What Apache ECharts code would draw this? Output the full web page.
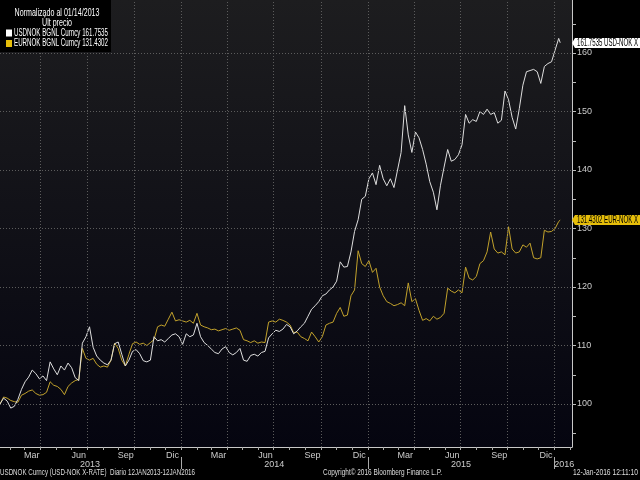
<!DOCTYPE html>
<html>
<head>
<meta charset="utf-8">
<script src="https://cdn.jsdelivr.net/npm/echarts@6/dist/echarts.min.js"></script>
<style>
  html, body { margin: 0; padding: 0; background: #000; }
  #chart { width: 640px; height: 480px; }
</style>
</head>
<body>
<div id="chart"></div>
<script>
  // weekly readings from 12 Jan 2013, last point is 12 Jan 2016
  var usdNok = [
    100, 101, 100.5, 99.3, 99.6, 100.8, 102.5, 103.8, 104.6, 105.8,
    105.2, 104.3, 104.8, 104, 107.2, 106, 105, 106.5, 105.8, 107,
    106.2, 104.5, 104, 110.4, 111.5, 113.2, 109.7, 108.2, 107.5, 107,
    106.7, 107.5, 110.3, 110.6, 108.5, 106.5, 107.5, 109, 109.3, 108.6,
    107.4, 107.2, 107.5, 111.5, 110.8, 111, 110.6, 111.2, 111.8, 112,
    111.5, 110.2, 112, 111.5, 111.8, 113.8, 111.5, 110.5, 110, 109.4,
    108.8, 108.6, 109.4, 109.8, 108.8, 108.4, 108.8, 109.5, 107.5, 107.3,
    108.3, 108.5, 108.2, 108.8, 109, 111.3, 112, 112.6, 112.4, 112.8,
    113.6, 113.2, 112, 112.5, 113.2, 113.8, 115, 116.2, 116.8, 117.5,
    118.5, 118.8, 119.5, 120, 121, 124.3, 123.4, 123.5, 126, 129.5,
    131.5, 135, 135.5, 138.5, 139.5, 137.5, 140.8, 138.5, 137.3, 138.5,
    137, 140, 143, 151, 146, 143, 146.5, 145.5, 143.5, 141,
    138, 136.2, 133.2, 137.4, 140.5, 143.5, 141.5, 141.8, 142.6, 144.3,
    149.5, 148, 148.6, 148.3, 150, 149.5, 150.4, 149.5, 149.8, 148,
    148.5, 153.5, 152, 149, 147, 150.5, 154.5, 156.8, 157, 157.2,
    156.8, 154.8, 157.7, 158.2, 158.5, 160.5, 162.5,
    161.7535
  ];
  var eurNok = [
    100, 101.2, 101, 100.6, 100.4, 100.3, 101.5, 101.8, 102.2, 102.4,
    101.8, 101.5, 101.6, 102, 103.8, 103.2, 103, 102.5, 101.6, 103,
    103.6, 104, 104.2, 109.5, 107.8, 107.5, 107.8, 106.8, 106.3, 106.5,
    106.3, 107.5, 110.4, 109.5, 107.5, 106.5, 108.5, 110.3, 110.6, 110.2,
    110.4, 110, 110.5, 111, 113.2, 113.5, 113.3, 114.5, 115.7, 114.2,
    114.4, 114.2, 114, 114.3, 113.8, 115.5, 113.5, 113.2, 113, 112.7,
    112.8, 112.5, 112.7, 112.9, 112.6, 112.8, 113, 112.6, 111, 110.8,
    110.5, 110.8, 110.4, 110.6, 110.5, 114, 114.2, 114, 114.5, 114.3,
    114, 113.5, 112.2, 112.3, 111.5, 111.2, 110.8, 112.3, 111.5, 110.6,
    111.5, 113.5, 113.8, 114, 115.5, 116.5, 115, 115.2, 118.5, 119.5,
    126.2, 124, 123.5, 124.5, 122.5, 123.2, 120, 118.5, 117.5, 117.2,
    116.8, 117, 117.3, 116.8, 120.7, 117.5, 118, 116, 114.3, 114.6,
    114.2, 115, 114.5, 114.8, 115.5, 119.8, 119.3, 119, 119.5, 119,
    123.4, 121.5, 121.2, 121.8, 124, 124.5, 126, 129.4, 126.5, 125.8,
    126, 125.5, 130.3, 126.5, 125.8, 126, 127.2, 126.8, 127.5, 125,
    124.8, 125, 129.7, 129.4, 129.5, 130, 131.2,
    131.4302
  ];
  var seriesNames = ['USDNOK BGNL Curncy', 'EURNOK BGNL Curncy'];
  var lastPrices = ['161.7535', '131.4302'];
  var axisTags = ['USD-NOK X', 'EUR-NOK X'];
  var yLabelValues = [100, 110, 120, 130, 140, 150, 160];
  var yTickValues = [95, 100, 105, 110, 115, 120, 125, 130, 135, 140, 145, 150, 155, 160, 165];
  var monthNames = ['Ene', 'Feb', 'Mar', 'Abr', 'May', 'Jun', 'Jul', 'Ago', 'Sep', 'Oct', 'Nov', 'Dic'];

  var dates = [];
  for (var k = 0; k < usdNok.length - 1; k++) {
    dates.push(+new Date(2013, 0, 12 + 7 * k));
  }
  dates.push(+new Date(2016, 0, 12));

  var xMin = +new Date(2013, 0, 12);
  var xMax = +new Date(2016, 1, 4);

  var monthTicks = [], monthLabels = [], quarterLines = [];
  for (var y = 2013; y <= 2016; y++) {
    for (var m = 0; m < 12; m++) {
      var t = +new Date(y, m, 1);
      if (t <= xMin || t >= xMax) continue;
      monthTicks.push(t);
      if (m % 3 === 0) quarterLines.push(t);
      if (m % 3 === 2) monthLabels.push(+new Date(y, m, 15));
    }
  }
  var yearTicks = [+new Date(2014, 0, 1), +new Date(2015, 0, 1), +new Date(2016, 0, 1)];
  var yearLabels = [+new Date(2013, 6, 7), +new Date(2014, 6, 2), +new Date(2015, 6, 2), +new Date(2016, 0, 20)];

  var colors = ['#ffffff', '#e6be0a'];
  var lineColors = ['#dedede', '#c2a22c'];
  var font = '"Liberation Sans", "DejaVu Sans", sans-serif';

  // squeeze text horizontally to the narrow Bloomberg look
  var measureCtx = document.createElement('canvas').getContext('2d');
  function narrowText(str, x, y, width, size, align, fill, z) {
    measureCtx.font = size + 'px ' + font;
    var w = measureCtx.measureText(str).width;
    return {
      type: 'text', x: x, y: y, scaleX: width / w, z: z || 12,
      style: { text: str, font: size + 'px ' + font, fill: fill, align: align, verticalAlign: 'middle' }
    };
  }

  var gridMarks = yLabelValues.map(function (v) { return { yAxis: v }; })
    .concat(quarterLines.map(function (t) { return { xAxis: t }; }));

  function pairs(vals) {
    return vals.map(function (v, i) { return [dates[i], v]; });
  }

  var chart = echarts.init(document.getElementById('chart'));
  chart.setOption({
    backgroundColor: '#000',
    animation: false,
    grid: {
      left: 0, right: 68, top: 0, bottom: 33,
      show: true, borderWidth: 0,
      backgroundColor: new echarts.graphic.LinearGradient(0, 0, 0, 1, [
        { offset: 0, color: '#1d1d1f' },
        { offset: 1, color: '#050510' }
      ])
    },
    xAxis: [
      {
        type: 'value', min: xMin, max: xMax,
        axisLine: { show: true, lineStyle: { color: '#c8c8c8', width: 1 } },
        axisTick: { show: true, customValues: monthTicks, length: 3, lineStyle: { color: '#aaa' } },
        axisLabel: {
          customValues: monthLabels, color: '#ccc', fontSize: 9, fontFamily: font, margin: 4,
          formatter: function (v) { return monthNames[new Date(v).getMonth()]; }
        },
        splitLine: { show: false }
      },
      {
        type: 'value', min: xMin, max: xMax, position: 'bottom', offset: 10,
        axisLine: { show: false },
        axisTick: { show: true, customValues: yearTicks, length: 12, lineStyle: { color: '#aaa' } },
        axisLabel: {
          customValues: yearLabels, color: '#ccc', fontSize: 9, fontFamily: font, margin: 3,
          formatter: function (v) { return String(new Date(v).getFullYear()); }
        },
        splitLine: { show: false }
      }
    ],
    yAxis: {
      type: 'value', position: 'right', min: 92.65, max: 169.06,
      axisLine: { show: true, lineStyle: { color: '#c8c8c8', width: 1 } },
      axisTick: { show: true, customValues: yTickValues, length: 4, lineStyle: { color: '#bbb' } },
      axisLabel: { customValues: yLabelValues, color: '#ccc', fontSize: 9, fontFamily: font, margin: 5 },
      splitLine: { show: false }
    },
    series: [
      {
        name: 'grid', type: 'line', data: [], z: 1, silent: true,
        markLine: {
          silent: true, symbol: ['none', 'none'], label: { show: false },
          lineStyle: { color: '#5c5c5c', width: 1, type: [1, 2] },
          data: gridMarks
        }
      },
      {
        name: seriesNames[0], type: 'line', data: pairs(usdNok), showSymbol: false,
        color: colors[0], lineStyle: { color: lineColors[0], width: 1 }, z: 3
      },
      {
        name: seriesNames[1], type: 'line', data: pairs(eurNok), showSymbol: false,
        color: colors[1], lineStyle: { color: lineColors[1], width: 1 }, z: 2
      }
    ]
  });

  // info box, last-price tags on the axis, footer
  var graphics = [
    { type: 'rect', shape: { x: 0, y: 0, width: 111, height: 52 }, style: { fill: '#000' }, z: 10 },
    narrowText('Normalizado al 01/14/2013', 57, 13, 85, 10, 'center', '#fff'),
    narrowText('Últ precio', 57, 23, 30, 10, 'center', '#fff'),
    narrowText('USDNOK Curncy (USD-NOK X-RATE)  Diario 12JAN2013-12JAN2016', 0, 473, 195, 9, 'left', '#ddd'),
    narrowText('Copyright© 2016 Bloomberg Finance L.P.', 323, 473, 119, 9, 'left', '#ddd'),
    narrowText('12-Jan-2016 12:11:10', 638, 473, 65, 9, 'right', '#ddd')
  ];
  [usdNok, eurNok].forEach(function (vals, i) {
    var rowY = 33 + i * 10.5;
    graphics.push({ type: 'rect', shape: { x: 6, y: rowY - 3.5, width: 6, height: 7 }, style: { fill: colors[i] }, z: 11 });
    graphics.push(narrowText(seriesNames[i] + ' ' + lastPrices[i], 14, rowY, 94, 10, 'left', '#fff'));

    var p = chart.convertToPixel({ seriesIndex: i + 1 }, [xMax, vals[vals.length - 1]]);
    var px = Math.round(p[0]), py = Math.round(p[1]);
    graphics.push({
      type: 'polygon', z: 11,
      shape: { points: [[px, py], [px + 3, py - 5], [640, py - 5], [640, py + 5], [px + 3, py + 5]] },
      style: { fill: colors[i] }
    });
    graphics.push(narrowText(lastPrices[i] + ' ' + axisTags[i], px + 5, py, 61, 10, 'left', '#000'));
  });
  chart.setOption({ graphic: graphics });
</script>
</body>
</html>
